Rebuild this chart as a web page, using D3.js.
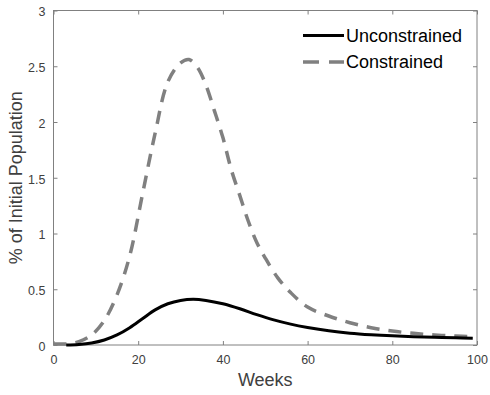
<!DOCTYPE html>
<html>
<head>
<meta charset="utf-8">
<script src="https://cdn.jsdelivr.net/npm/d3@7"></script>
<style>
  html, body { margin: 0; padding: 0; background: #fff; }
  svg { display: block; }
  text { font-family: Arial, "Liberation Sans", sans-serif; }
</style>
</head>
<body>
<svg id="chart" width="490" height="395"></svg>
<script>
// ---- data ----
const xTicks = [0, 20, 40, 60, 80, 100];
const yTicks = [0, 0.5, 1, 1.5, 2, 2.5, 3];
const yTickLabels = ["0", "0.5", "1", "1.5", "2", "2.5", "3"];
const seriesNames = ["Unconstrained", "Constrained"];

const weeksUnconstrained = [3, 6, 9, 12, 15, 18, 21, 24, 27, 30, 33, 36, 40, 44, 48, 52, 56, 60, 65, 70, 75, 80, 85, 90, 95, 99];
const valuesUnconstrained = [0.0, 0.005, 0.018, 0.045, 0.09, 0.155, 0.235, 0.315, 0.37, 0.40, 0.41, 0.40, 0.37, 0.325, 0.272, 0.225, 0.187, 0.157, 0.127, 0.106, 0.092, 0.082, 0.075, 0.07, 0.065, 0.061];

const weeksConstrained = [0, 3, 6, 9, 12, 15, 18, 21, 24, 27, 30, 32, 34, 36, 38, 40, 42, 44, 46, 48, 50, 53, 56, 60, 65, 70, 75, 80, 85, 90, 95, 99];
const valuesConstrained = [0.01, 0.01, 0.03, 0.09, 0.22, 0.45, 0.80, 1.35, 1.90, 2.36, 2.53, 2.56, 2.49, 2.33, 2.10, 1.86, 1.57, 1.34, 1.11, 0.92, 0.78, 0.60, 0.47, 0.34, 0.26, 0.20, 0.155, 0.125, 0.105, 0.09, 0.08, 0.075];

// ---- layout ----
const svg = d3.select("#chart");
const mLeft = 53.5, mRight = 477, mTop = 10.5, mBottom = 345;
const axisColor = "#808080";
const textColor = "#404040";

const x = d3.scaleLinear().domain([0, 100]).range([mLeft, mRight]);
const y = d3.scaleLinear().domain([0, 3]).range([mBottom, mTop]);

// box
svg.append("rect")
  .attr("x", mLeft).attr("y", mTop)
  .attr("width", mRight - mLeft).attr("height", mBottom - mTop)
  .attr("fill", "none").attr("stroke", axisColor).attr("stroke-width", 1);

// axes (ticks inward)
const tickLen = 4;
const xAxis = svg.append("g").attr("transform", `translate(0,${mBottom})`)
  .call(d3.axisBottom(x).tickValues(xTicks).tickSize(-tickLen).tickPadding(10).tickFormat(d3.format("d")));
const xAxisTop = svg.append("g").attr("transform", `translate(0,${mTop})`)
  .call(d3.axisTop(x).tickValues(xTicks).tickSize(-tickLen).tickFormat(""));
const yAxis = svg.append("g").attr("transform", `translate(${mLeft},0)`)
  .call(d3.axisLeft(y).tickValues(yTicks).tickSize(-tickLen).tickPadding(8)
    .tickFormat((d, i) => yTickLabels[i]));
const yAxisRight = svg.append("g").attr("transform", `translate(${mRight},0)`)
  .call(d3.axisRight(y).tickValues(yTicks).tickSize(-tickLen).tickFormat(""));

[xAxis, xAxisTop, yAxis, yAxisRight].forEach(g => {
  g.select(".domain").remove();
  g.selectAll(".tick line").attr("stroke", axisColor);
  g.selectAll(".tick text").attr("fill", textColor).attr("font-size", 12.5)
    .attr("font-family", "Arial, 'Liberation Sans', sans-serif");
});
yAxis.selectAll(".tick text").attr("dy", "0.42em");

// axis labels
svg.append("text")
  .attr("x", (mLeft + mRight) / 2).attr("y", 386)
  .attr("text-anchor", "middle").attr("font-size", 18).attr("fill", textColor)
  .text("Weeks");
svg.append("text")
  .attr("transform", `translate(22,${(mTop + mBottom) / 2}) rotate(-90)`)
  .attr("text-anchor", "middle").attr("font-size", 18).attr("fill", textColor)
  .text("% of Initial Population");

// lines
const line = d3.line().x(d => x(d[0])).y(d => y(d[1])).curve(d3.curveCatmullRom.alpha(0.5));
const dataU = weeksUnconstrained.map((w, i) => [w, valuesUnconstrained[i]]);
const dataC = weeksConstrained.map((w, i) => [w, valuesConstrained[i]]);

svg.append("path").datum(dataC).attr("d", line)
  .attr("fill", "none").attr("stroke", "#808080").attr("stroke-width", 3.5)
  .attr("stroke-dasharray", "13 9");
svg.append("path").datum(dataU).attr("d", line)
  .attr("fill", "none").attr("stroke", "#000").attr("stroke-width", 3);

// legend
const legend = svg.append("g");
const legendItems = [
  { name: seriesNames[0], stroke: "#000", width: 3, dash: null, y: 35.5 },
  { name: seriesNames[1], stroke: "#808080", width: 3.5, dash: "16 10", y: 62 }
];
legendItems.forEach(it => {
  legend.append("line")
    .attr("x1", 303).attr("x2", 344).attr("y1", it.y).attr("y2", it.y)
    .attr("stroke", it.stroke).attr("stroke-width", it.width)
    .attr("stroke-dasharray", it.dash);
  legend.append("text")
    .attr("x", 346).attr("y", it.y).attr("dy", "0.35em")
    .attr("font-size", 18).attr("fill", "#000")
    .text(it.name);
});
</script>
</body>
</html>
